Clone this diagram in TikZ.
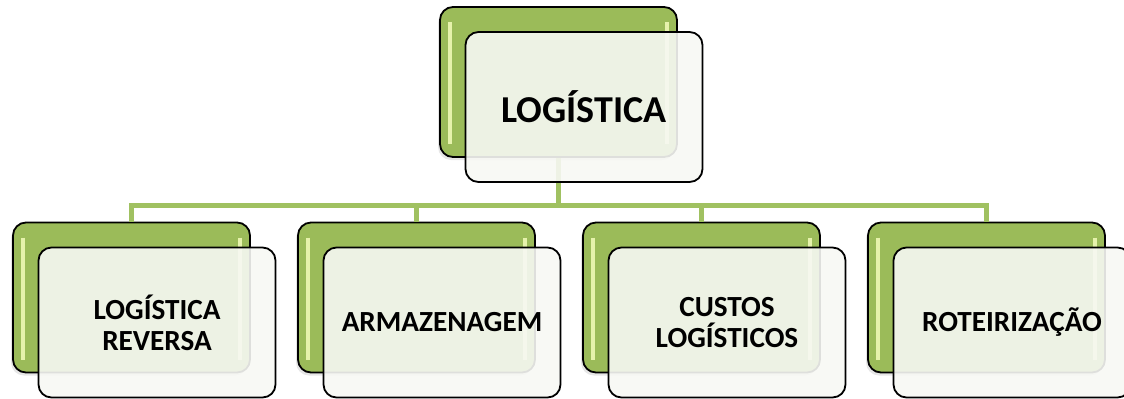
\documentclass[tikz,border=0pt]{standalone}
\usepackage{fontspec}
\setmainfont{Carlito}
\usetikzlibrary{positioning,calc,shadows}
\definecolor{leafgreen}{RGB}{155,187,89}
\definecolor{linegreen}{RGB}{160,193,97}
\definecolor{glint}{RGB}{230,242,172}
\definecolor{paper}{RGB}{247,248,244}
\newcommand{\rootsize}{\fontsize{19}{22}\selectfont\bfseries}
\newcommand{\leafsize}{\fontsize{14.6}{15.5}\selectfont\bfseries}

\begin{document}
\begin{tikzpicture}[x=0.5pt, y=-0.5pt,
			backbox/.style={rectangle, rounded corners=6.5pt, draw=black, line width=0.9pt, fill=leafgreen,
				minimum width=118.5pt, minimum height=75pt, inner sep=0pt,
				drop shadow={opacity=0.2, shadow xshift=-1pt, shadow yshift=-1.5pt},
				path picture={
					\draw[glint, line width=1.8pt] ([xshift=5pt, yshift=-7.5pt]path picture bounding box.north west) -- ([xshift=5pt, yshift=6.5pt]path picture bounding box.south west);
					\draw[glint, line width=1.8pt] ([xshift=-5pt, yshift=-7.5pt]path picture bounding box.north east) -- ([xshift=-5pt, yshift=6.5pt]path picture bounding box.south east);
				}},
			frontbox/.style={rectangle, rounded corners=6.5pt, draw=black, line width=0.9pt, fill=paper,
				fill opacity=0.9, text opacity=1, minimum width=118.5pt, minimum height=75pt,
				inner sep=0pt, align=center},
			conn/.style={draw=linegreen, line width=2.5pt}
		]
		\useasboundingbox (0,0) rectangle (1124,398);
		% green boxes behind
		\node[backbox] (logback) at (558.5,82) {};
		\node[backbox] (revback) at (131.5,297.5) {};
		\node[backbox] (storeback) [right=23.1pt of revback] {};
		\node[backbox] (costback) [right=23.1pt of storeback] {};
		\node[backbox] (routeback) [right=23.1pt of costback] {};
		% tree lines
		\coordinate (bus) at ($(logback.south)+(0,48)$);
		\draw[conn] (logback.south) -- (bus);
		\draw[conn] (bus) -| (revback.north);
		\draw[conn] (bus) -| (storeback.north);
		\draw[conn] (bus) -| (costback.north);
		\draw[conn] (bus) -| (routeback.north);
		% white boxes in front
		\node[frontbox, font=\rootsize] (log) at ($(logback.center)+(25.5,25)$) {LOGÍSTICA};
		\node[frontbox, font=\leafsize] (rev) at ($(revback.center)+(25.5,25)$) {LOGÍSTICA\\REVERSA};
		\node[frontbox, font=\leafsize] (store) at ($(storeback.center)+(25.5,25)$) {ARMAZENAGEM};
		\node[frontbox, font=\leafsize] (cost) at ($(costback.center)+(25.5,25)$) {CUSTOS\\LOGÍSTICOS};
		\node[frontbox, font=\leafsize] (route) at ($(routeback.center)+(25.5,25)$) {ROTEIRIZAÇÃO};
\end{tikzpicture}
\end{document}
